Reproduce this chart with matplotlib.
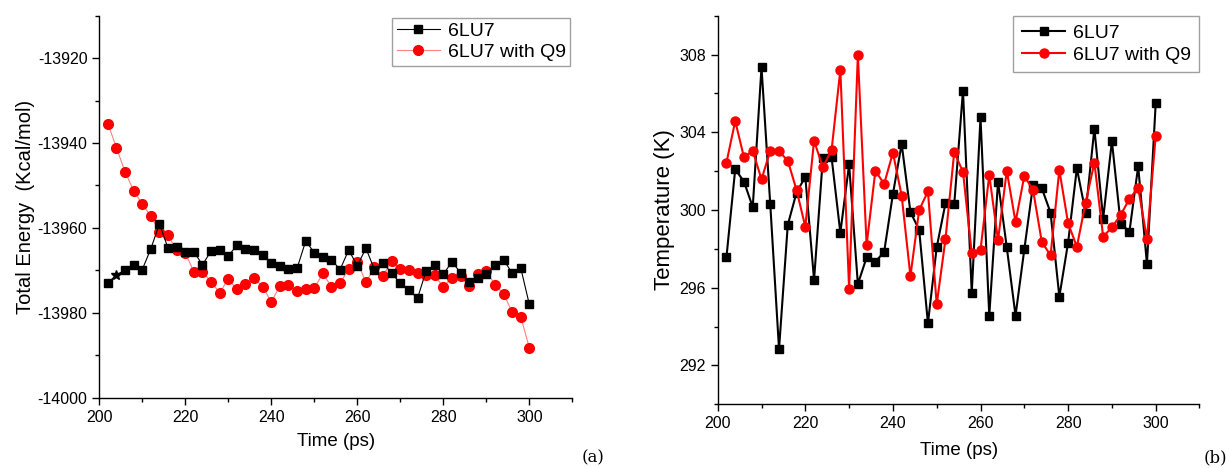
import matplotlib
matplotlib.use("Agg")
import matplotlib.pyplot as plt
from matplotlib.ticker import MultipleLocator

plt.rcParams['font.family'] = ['Liberation Sans', 'DejaVu Sans']
plt.rcParams['axes.unicode_minus'] = False

# time axis (ps)
time_ps = [202, 204, 206, 208, 210, 212, 214, 216, 218, 220,
           222, 224, 226, 228, 230, 232, 234, 236, 238, 240,
           242, 244, 246, 248, 250, 252, 254, 256, 258, 260,
           262, 264, 266, 268, 270, 272, 274, 276, 278, 280,
           282, 284, 286, 288, 290, 292, 294, 296, 298, 300]

# (a) total energy, Kcal/mol
energy_6lu7 = [-13973.0, -13971.0, -13970.0, -13968.7, -13969.8, -13964.9, -13959.0, -13964.8, -13964.6, -13965.6,
               -13965.6, -13968.7, -13965.4, -13965.2, -13966.6, -13964.1, -13965.0, -13965.3, -13966.4, -13968.3,
               -13969.0, -13969.6, -13969.5, -13963.1, -13965.8, -13966.8, -13967.5, -13969.8, -13965.2, -13968.9,
               -13964.8, -13969.8, -13968.2, -13970.7, -13973.0, -13974.6, -13976.6, -13970.1, -13968.7, -13970.9,
               -13968.0, -13970.5, -13972.8, -13971.7, -13970.9, -13968.7, -13967.5, -13970.6, -13969.4, -13978.0]
energy_q9 = [-13935.4, -13941.1, -13946.8, -13951.2, -13954.4, -13957.2, -13960.9, -13961.7, -13965.3, -13965.9,
             -13970.3, -13970.3, -13972.7, -13975.3, -13972.0, -13974.5, -13973.1, -13971.9, -13973.8, -13977.5,
             -13973.6, -13973.5, -13974.9, -13974.3, -13974.2, -13970.7, -13973.9, -13973.0, -13969.7, -13968.0,
             -13972.8, -13969.3, -13971.3, -13967.8, -13969.7, -13969.8, -13970.5, -13971.1, -13971.2, -13973.9,
             -13971.7, -13971.3, -13973.6, -13970.9, -13970.1, -13973.4, -13975.5, -13979.8, -13980.9, -13988.2]

# (b) temperature, K
temp_6lu7 = [297.58, 302.10, 301.46, 300.15, 307.35, 300.29, 292.84, 299.24, 300.90, 301.71,
             296.40, 302.66, 302.71, 298.83, 302.35, 296.19, 297.56, 297.34, 297.84, 300.82,
             303.40, 299.90, 298.97, 294.17, 298.08, 300.34, 300.29, 306.15, 295.74, 304.77,
             294.56, 301.46, 298.08, 294.56, 297.97, 301.30, 301.12, 299.86, 295.54, 298.32,
             302.15, 299.86, 304.19, 299.55, 303.54, 299.30, 298.88, 302.25, 297.22, 305.49]
temp_q9 = [302.44, 304.58, 302.71, 303.05, 301.58, 303.05, 303.02, 302.54, 301.03, 299.14,
           303.57, 302.20, 303.09, 307.21, 295.95, 307.98, 298.21, 302.02, 301.34, 302.95,
           300.74, 296.60, 300.00, 300.96, 295.14, 298.49, 302.97, 301.97, 297.77, 297.94,
           301.80, 298.45, 302.02, 299.38, 301.75, 301.03, 298.35, 297.67, 302.06, 299.32,
           298.11, 300.38, 302.44, 298.63, 299.11, 299.74, 300.57, 301.15, 298.51, 303.81]

labels = ["6LU7", "6LU7 with Q9"]

fig = plt.figure(figsize=(12.3, 4.68), dpi=100)
ax1 = fig.add_axes([0.0807, 0.1502, 0.3846, 0.8162])
ax2 = fig.add_axes([0.5835, 0.1361, 0.3917, 0.8303])


def style_axes(ax):
    for side in ("top", "right"):
        ax.spines[side].set_visible(False)
    for side in ("left", "bottom"):
        ax.spines[side].set_linewidth(1.0)
    ax.tick_params(which="major", direction="out", length=5, width=1, labelsize=11.5, color="black")
    ax.tick_params(which="minor", direction="out", length=3, width=1, color="black")
    ax.xaxis.set_major_locator(MultipleLocator(20))
    ax.xaxis.set_minor_locator(MultipleLocator(10))
    ax.set_xlim(200, 310)


# (a)
marks = [i for i in range(len(time_ps)) if i != 1]
ax1.plot(time_ps, energy_6lu7, color="black", lw=0.8, marker="s", ms=6,
         markevery=marks, label=labels[0], zorder=3)
ax1.plot(time_ps[1], energy_6lu7[1], color="black", marker="*", ms=7, ls="none", zorder=3)
ax1.plot(time_ps, energy_q9, color="#ff8080", lw=0.8, marker="o", ms=7,
         markerfacecolor="red", markeredgecolor="red", label=labels[1], zorder=2)
style_axes(ax1)
ax1.set_ylim(-14000, -13910)
ax1.yaxis.set_major_locator(MultipleLocator(20))
ax1.yaxis.set_minor_locator(MultipleLocator(10))
ax1.set_xlabel("Time (ps)", fontsize=13.5, labelpad=6)
ax1.set_ylabel("Total Energy  (Kcal/mol)", fontsize=14.5, labelpad=2)
ax1.legend(loc="upper right", fontsize=14, frameon=True, fancybox=False,
           edgecolor="#a0a0a0", framealpha=1, borderaxespad=0.1, borderpad=0.25,
           labelspacing=0.15, handlelength=2.2, handletextpad=0.4)

# (b)
ax2.plot(time_ps, temp_6lu7, color="black", lw=1.5, marker="s", ms=6,
         label=labels[0], zorder=2)
ax2.plot(time_ps, temp_q9, color="red", lw=1.5, marker="o", ms=6.5,
         label=labels[1], zorder=3)
style_axes(ax2)
ax2.set_ylim(290, 310)
ax2.yaxis.set_major_locator(MultipleLocator(4))
ax2.yaxis.set_minor_locator(MultipleLocator(2))
ax2.set_xlabel("Time (ps)", fontsize=13.5, labelpad=8)
ax2.set_ylabel("Temperature (K)", fontsize=16, labelpad=3)
ax2.legend(loc="upper right", fontsize=14, frameon=True, fancybox=False,
           edgecolor="#a0a0a0", framealpha=1, borderaxespad=0.0, borderpad=0.45,
           labelspacing=0.2, handlelength=2.2, handletextpad=0.4)

fig.text(0.482, 0.021, "(a)", fontsize=12, family="DejaVu Serif", ha="center", va="center")
fig.text(0.988, 0.021, "(b)", fontsize=12, family="DejaVu Serif", ha="center", va="center")

fig.savefig("out.png", dpi=100)
